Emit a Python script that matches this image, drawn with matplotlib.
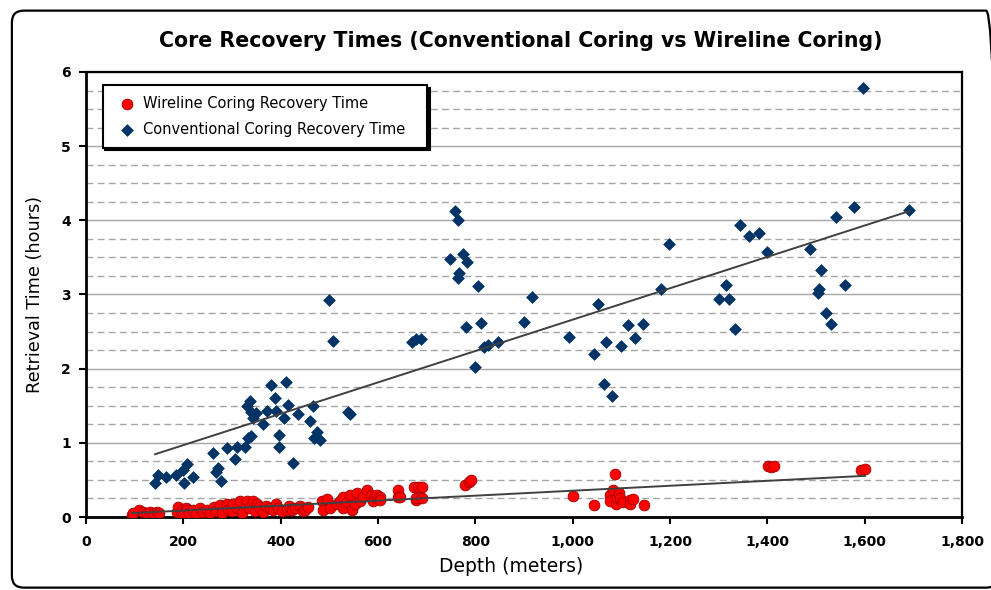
import numpy as np
import matplotlib
matplotlib.use("Agg")
import matplotlib.pyplot as plt
from matplotlib.patches import FancyBboxPatch
from matplotlib.ticker import MultipleLocator, FuncFormatter

plt.rcParams['font.family'] = ['DejaVu Sans']

title = "Core Recovery Times (Conventional Coring vs Wireline Coring)"
xlabel = "Depth (meters)"
ylabel = "Retrieval Time (hours)"
wire_label = "Wireline Coring Recovery Time"
conv_label = "Conventional Coring Recovery Time"

# Wireline coring (red circles)
wire_depth = [94, 97, 108, 118, 125, 131, 140, 145, 150,
              186, 190, 195, 197, 200, 205, 207, 212, 220, 225, 234, 240, 248, 255, 262, 268,
              275, 280, 289, 292, 300, 303, 310, 316, 320, 330, 335, 344, 348, 351, 355, 364,
              370, 378, 385, 390, 395, 403, 412, 418, 423, 430, 440, 445, 450, 457,
              484, 488, 496, 501, 515, 522, 529, 529, 536, 542, 546, 552, 556, 563, 570, 577,
              585, 590, 594, 597, 604, 604,
              642, 642, 645, 673, 683, 690, 679, 679, 690,
              779, 786, 792,
              1001, 1044, 1077, 1077, 1082, 1087, 1089, 1092, 1096, 1097, 1103, 1118, 1118, 1125, 1146,
              1402, 1408, 1414,
              1592, 1601]
wire_time = [0.03, 0.06, 0.09, 0.07, 0.05, 0.07, 0.06, 0.07, 0.05,
             0.07, 0.14, 0.05, 0.10, 0.03, 0.12, 0.09, 0.06, 0.09, 0.04, 0.12, 0.07, 0.10, 0.05, 0.14, 0.08,
             0.16, 0.06, 0.18, 0.10, 0.08, 0.18, 0.12, 0.21, 0.06, 0.21, 0.12, 0.22, 0.08, 0.18, 0.14, 0.07,
             0.15, 0.12, 0.09, 0.18, 0.12, 0.08, 0.10, 0.15, 0.09, 0.12, 0.15, 0.08, 0.10, 0.14,
             0.21, 0.10, 0.24, 0.12, 0.18, 0.22, 0.27, 0.12, 0.20, 0.30, 0.09, 0.17, 0.32, 0.21, 0.27, 0.36,
             0.30, 0.22, 0.27, 0.30, 0.27, 0.23,
             0.36, 0.27, 0.27, 0.40, 0.41, 0.41, 0.23, 0.25, 0.26,
             0.43, 0.47, 0.50,
             0.29, 0.16, 0.30, 0.21, 0.36, 0.58, 0.17, 0.25, 0.32, 0.26, 0.20, 0.23, 0.18, 0.24, 0.16,
             0.69, 0.68, 0.69,
             0.64, 0.65]

# Conventional coring (navy diamonds)
conv_depth = [142, 147, 164, 185, 201, 207, 200, 220, 260, 267, 272, 277, 290, 306, 310, 327,
              333, 340, 330, 337, 338, 344, 349, 364, 371, 381, 388, 390, 397, 397, 407, 410,
              416, 425, 436, 460, 467, 468, 475, 481, 538, 543,
              499, 507, 669, 679, 688,
              758, 765, 748, 774, 783, 767, 765, 806, 781, 811, 799, 818, 827, 847,
              916, 901, 992, 1044, 1053, 1068, 1064, 1081, 1099, 1114, 1128, 1145, 1181, 1198,
              1301, 1316, 1322, 1334, 1344, 1363, 1383, 1400,
              1596, 1578, 1541, 1692, 1488, 1510, 1507, 1505, 1560, 1520, 1530]
conv_time = [0.46, 0.57, 0.54, 0.57, 0.46, 0.71, 0.63, 0.54, 0.86, 0.61, 0.66, 0.48, 0.93, 0.78, 0.95, 0.94,
             1.06, 1.09, 1.50, 1.57, 1.42, 1.34, 1.40, 1.25, 1.43, 1.78, 1.61, 1.43, 1.11, 0.95, 1.33, 1.82,
             1.51, 0.73, 1.39, 1.29, 1.49, 1.07, 1.15, 1.04, 1.41, 1.39,
             2.92, 2.37, 2.36, 2.40, 2.40,
             4.13, 4.00, 3.48, 3.55, 3.44, 3.29, 3.22, 3.11, 2.56, 2.62, 2.02, 2.29, 2.32, 2.36,
             2.97, 2.63, 2.43, 2.20, 2.87, 2.36, 1.79, 1.63, 2.30, 2.59, 2.42, 2.60, 3.07, 3.68,
             2.94, 3.13, 2.94, 2.53, 3.94, 3.79, 3.83, 3.57,
             5.79, 4.18, 4.05, 4.14, 3.61, 3.33, 3.07, 3.02, 3.13, 2.75, 2.60]

x_ticks = [0, 200, 400, 600, 800, 1000, 1200, 1400, 1600, 1800]
y_ticks = [0, 1, 2, 3, 4, 5, 6]

fig = plt.figure(figsize=(9.91, 5.90), dpi=100)
fig.patch.set_facecolor('white')

# outer rounded border (right edge runs off the image as in the reference)
border = FancyBboxPatch((0.012, 0.004), 0.995, 0.978, boxstyle="round,pad=0,rounding_size=0.012",
                        transform=fig.transFigure, fill=False, edgecolor='black', linewidth=1.6,
                        mutation_aspect=9.91/5.90)
fig.patches.append(border)

ax = fig.add_axes([0.0868, 0.1237, 0.8839, 0.7543])
ax.set_xlim(0, 1800)
ax.set_ylim(0, 6)

# grid
ax.yaxis.set_minor_locator(MultipleLocator(0.25))
ax.set_yticks(y_ticks)
ax.set_xticks(x_ticks)
ax.grid(axis='y', which='major', color='#A6A6A6', linewidth=1.0, linestyle='-')
ax.grid(axis='y', which='minor', color='#A6A6A6', linewidth=1.0, linestyle=(0, (5, 3)))
ax.set_axisbelow(True)

# scatter
ax.scatter(wire_depth, wire_time, s=60, marker='o', facecolor='#FF0000', edgecolor='#A00000',
           linewidth=0.6, zorder=3, label=wire_label)
ax.scatter(conv_depth, conv_time, s=36, marker='D', facecolor='#003366', edgecolor='#003366',
           linewidth=0.5, zorder=3, label=conv_label)

# linear trend lines
for xs, ys in ((conv_depth, conv_time), (wire_depth, wire_time)):
    xs = np.asarray(xs, float); ys = np.asarray(ys, float)
    k, b = np.polyfit(xs, ys, 1)
    xx = np.array([xs.min(), xs.max()])
    ax.plot(xx, k * xx + b, color='#404040', linewidth=1.4, zorder=4)

for side in ['left', 'bottom', 'right', 'top']:
    ax.spines[side].set_color('black')
ax.spines['left'].set_linewidth(2.0)
ax.spines['bottom'].set_linewidth(2.0)
ax.spines['right'].set_linewidth(1.6)
ax.spines['top'].set_linewidth(1.6)

ax.tick_params(axis='both', which='major', direction='out', length=5, width=1.5, labelsize=10)
ax.tick_params(axis='y', which='minor', length=0)
ax.xaxis.set_major_formatter(FuncFormatter(lambda v, p: f"{int(v):,}"))
for lab in ax.get_xticklabels() + ax.get_yticklabels():
    lab.set_fontweight('bold')
ax.tick_params(axis='x', pad=8)
ax.tick_params(axis='y', pad=6)

ax.set_xlabel(xlabel, fontsize=13.5, labelpad=6, x=0.485)
ax.set_ylabel(ylabel, fontsize=12.7, labelpad=12)

fig.text(0.525, 0.93, title, ha='center', va='center', fontsize=14.8, fontweight='bold')

leg = ax.legend(loc='upper left', bbox_to_anchor=(0.019, 0.0, 0.370, 0.971), mode='expand',
                borderaxespad=0, frameon=True, fancybox=False,
                shadow={'color': 'black', 'alpha': 1.0}, fontsize=10.5,
                handletextpad=0.2, borderpad=0.75, labelspacing=0.75, handlelength=1.8)
leg.get_frame().set_edgecolor('black')
leg.get_frame().set_linewidth(1.5)

fig.savefig('out.png', dpi=100, facecolor='white')
